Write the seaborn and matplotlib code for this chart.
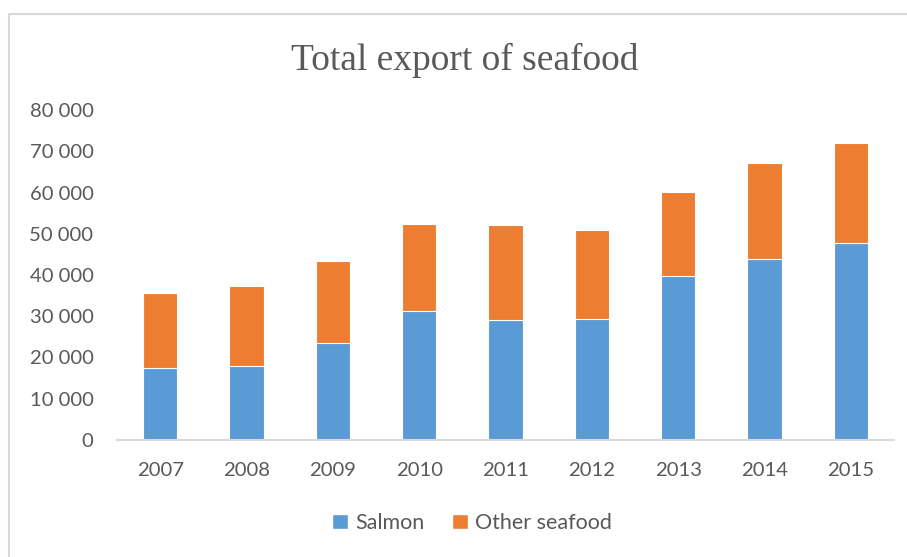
import matplotlib
matplotlib.use("Agg")
import matplotlib.pyplot as plt
from matplotlib.patches import Rectangle, Patch
import seaborn as sns
import pandas as pd

# Export values per year
years = ["2007", "2008", "2009", "2010", "2011", "2012", "2013", "2014", "2015"]
salmon = [17400, 17900, 23500, 31200, 29200, 29400, 39700, 43800, 47700]
other_seafood = [18200, 19400, 19900, 21200, 22900, 21400, 20500, 23400, 24400]
y_ticks = [0, 10000, 20000, 30000, 40000, 50000, 60000, 70000, 80000]

BLUE = "#5B9BD5"
ORANGE = "#ED7D31"
TEXT = "#595959"
LINE = "#D9D9D9"

df = pd.DataFrame({
    "year": years,
    "salmon": salmon,
    "other": other_seafood,
})
df["total"] = df["salmon"] + df["other"]

sns.set_theme(style="white")
plt.rcParams["font.family"] = ["Lato", "DejaVu Sans"]

W, H = 907, 557
fig = plt.figure(figsize=(W / 100, H / 100), dpi=100)
ax = fig.add_axes([117 / W, (H - 440) / H, (894 - 117) / W, (440 - 110) / H])

# Stacked bars: total in orange underneath, salmon in blue over it
sns.barplot(data=df, x="year", y="total", color=ORANGE, saturation=1,
            width=0.4, edgecolor="white", linewidth=0.8, ax=ax)
sns.barplot(data=df, x="year", y="salmon", color=BLUE, saturation=1,
            width=0.4, edgecolor="white", linewidth=0.8, ax=ax)

ax.set_ylim(0, 80000)
ax.set_xlim(-0.5, len(years) - 0.5)
ax.set_yticks(y_ticks)
ax.set_yticklabels([f"{v:,}".replace(",", " ") for v in y_ticks])
ax.set_xlabel("")
ax.set_ylabel("")
ax.tick_params(axis="both", length=0, labelsize=14.6, labelcolor=TEXT)
ax.tick_params(axis="x", pad=16)
ax.tick_params(axis="y", pad=17)
for s in ["top", "right", "left"]:
    ax.spines[s].set_visible(False)
ax.spines["bottom"].set_color(LINE)
ax.spines["bottom"].set_linewidth(1.5)

# Chart title in serif
fig.text(465 / W, 1 - 70 / H, "Total export of seafood", ha="center",
         va="baseline", fontsize=27, color=TEXT,
         family=["Liberation Serif", "DejaVu Serif"])

# Chart frame
fig.patches.append(Rectangle((9 / W, -0.1), 1.2, 1 - 14 / H + 0.1,
                             transform=fig.transFigure, fill=False,
                             edgecolor=LINE, linewidth=1.5))

handles = [Patch(facecolor=BLUE, label="Salmon"),
           Patch(facecolor=ORANGE, label="Other seafood")]
fig.legend(handles=handles, loc="center", bbox_to_anchor=(472 / W, 1 - 523 / H),
           ncol=2, frameon=False, fontsize=15.5, labelcolor=TEXT,
           handlelength=0.75, handleheight=0.75, handletextpad=0.3,
           columnspacing=1.3)

fig.savefig("out.png", dpi=100)
